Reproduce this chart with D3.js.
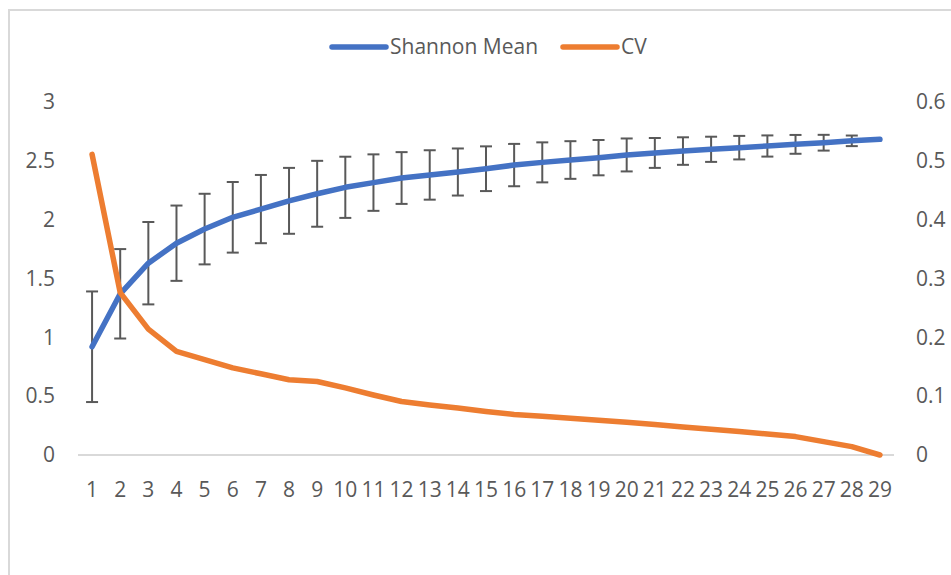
<!DOCTYPE html>
<meta charset="utf-8">
<style>
  body { margin: 0; background: #fff; }
  text { font-family: "Open Sans", sans-serif; fill: #595959; }
  .axis text { font-size: 21px; }
  .axis .domain { display: none; }
  .legend text { font-size: 21px; }
</style>
<body>
<script src="https://cdn.jsdelivr.net/npm/d3@7"></script>
<script>

var width = 951,
    height = 575;

// data
var categories = [1, 2, 3, 4, 5, 6, 7, 8, 9, 10, 11, 12, 13, 14, 15, 16, 17, 18, 19, 20, 21, 22, 23, 24, 25, 26, 27, 28, 29];

var shannonMean = [0.92, 1.37, 1.63, 1.80, 1.92, 2.02, 2.09, 2.16, 2.22, 2.275, 2.315, 2.354, 2.38, 2.405, 2.433,
                   2.464, 2.487, 2.507, 2.527, 2.55, 2.567, 2.583, 2.598, 2.612, 2.626, 2.64, 2.654, 2.67, 2.683];

var shannonErr = [0.47, 0.38, 0.35, 0.32, 0.30, 0.30, 0.29, 0.28, 0.28, 0.26, 0.24, 0.22, 0.21, 0.20, 0.19,
                  0.18, 0.17, 0.16, 0.15, 0.14, 0.127, 0.117, 0.107, 0.10, 0.09, 0.08, 0.067, 0.045, 0];

var cv = [0.511, 0.276, 0.214, 0.176, 0.162, 0.148, 0.138, 0.128, 0.125, 0.114, 0.102, 0.091, 0.085, 0.080, 0.074,
          0.069, 0.066, 0.0625, 0.059, 0.0557, 0.0517, 0.0477, 0.0437, 0.0398, 0.0358, 0.0313, 0.0227, 0.0142, 0];

var leftTicks = [0, 0.5, 1, 1.5, 2, 2.5, 3];
var rightTicks = [0, 0.1, 0.2, 0.3, 0.4, 0.5, 0.6];

var seriesNames = ["Shannon Mean", "CV"];
var seriesColors = ["#4472C4", "#ED7D31"];

var svg = d3.select("body").append("svg")
    .attr("width", width)
    .attr("height", height);

// chart area frame
svg.append("rect")
    .attr("x", 9).attr("y", 10)
    .attr("width", width).attr("height", height)
    .attr("fill", "none")
    .attr("stroke", "#d9d9d9")
    .attr("stroke-width", 2);

var x = d3.scaleBand()
    .domain(categories)
    .range([78, 894]);

var yL = d3.scaleLinear().domain([0, 3]).range([455, 102]);
var yR = d3.scaleLinear().domain([0, 0.6]).range([455, 102]);

var cx = function(d) { return x(d) + x.bandwidth() / 2; };

// axes
svg.append("g")
    .attr("class", "axis")
    .attr("transform", "translate(78,0)")
    .call(d3.axisLeft(yL).tickValues(leftTicks).tickSize(0).tickPadding(23).tickFormat(d3.format("")));

svg.append("g")
    .attr("class", "axis")
    .attr("transform", "translate(894,0)")
    .call(d3.axisRight(yR).tickValues(rightTicks).tickSize(0).tickPadding(22).tickFormat(d3.format("")));

svg.append("g")
    .attr("class", "axis")
    .attr("transform", "translate(0,455)")
    .call(d3.axisBottom(x).tickSize(0).tickPadding(27));

// baseline
svg.append("line")
    .attr("x1", x.range()[0]).attr("x2", x.range()[1])
    .attr("y1", yL(0)).attr("y2", yL(0))
    .attr("stroke", "#d9d9d9")
    .attr("stroke-width", 2);

// error bars
var errData = categories.map(function(c, i) { return {c: c, m: shannonMean[i], e: shannonErr[i]}; })
    .filter(function(d) { return d.e > 0; });

var eb = svg.append("g")
    .attr("stroke", "#595959")
    .attr("stroke-width", 2)
    .selectAll("g")
    .data(errData)
  .enter().append("g");

eb.append("line")
    .attr("x1", function(d) { return cx(d.c); })
    .attr("x2", function(d) { return cx(d.c); })
    .attr("y1", function(d) { return yL(d.m + d.e); })
    .attr("y2", function(d) { return yL(d.m - d.e); });

eb.selectAll(".cap")
    .data(function(d) { return [{c: d.c, v: d.m + d.e}, {c: d.c, v: d.m - d.e}]; })
  .enter().append("line")
    .attr("class", "cap")
    .attr("x1", function(d) { return cx(d.c) - 6; })
    .attr("x2", function(d) { return cx(d.c) + 6; })
    .attr("y1", function(d) { return yL(d.v); })
    .attr("y2", function(d) { return yL(d.v); });

// lines
var lineL = d3.line()
    .x(function(d, i) { return cx(categories[i]); })
    .y(function(d) { return yL(d); });

var lineR = d3.line()
    .x(function(d, i) { return cx(categories[i]); })
    .y(function(d) { return yR(d); });

svg.append("path")
    .datum(shannonMean)
    .attr("d", lineL)
    .attr("fill", "none")
    .attr("stroke", seriesColors[0])
    .attr("stroke-width", 5.5)
    .attr("stroke-linejoin", "round")
    .attr("stroke-linecap", "round");

svg.append("path")
    .datum(cv)
    .attr("d", lineR)
    .attr("fill", "none")
    .attr("stroke", seriesColors[1])
    .attr("stroke-width", 5.5)
    .attr("stroke-linejoin", "round")
    .attr("stroke-linecap", "round");

// legend
var legendX = [332, 563];
var legend = svg.append("g")
    .attr("class", "legend")
    .selectAll("g")
    .data(seriesNames)
  .enter().append("g")
    .attr("transform", function(d, i) { return "translate(" + legendX[i] + ",47)"; });

legend.append("line")
    .attr("x1", 0).attr("x2", 54)
    .attr("stroke", function(d, i) { return seriesColors[i]; })
    .attr("stroke-width", 5.5)
    .attr("stroke-linecap", "round");

legend.append("text")
    .attr("x", 58)
    .attr("dy", "0.35em")
    .text(function(d) { return d; });

</script>
